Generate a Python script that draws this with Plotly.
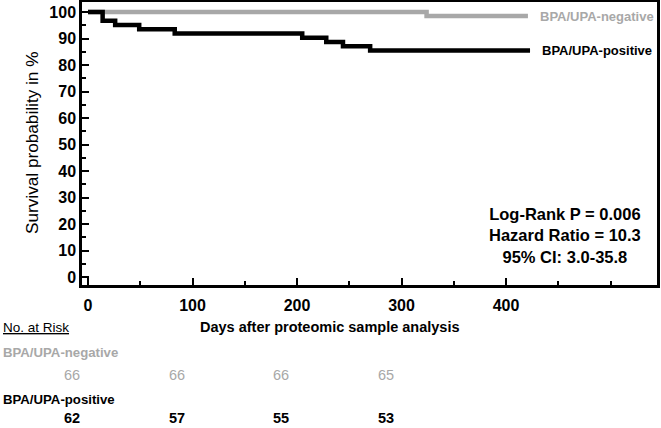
import plotly.graph_objects as go

# ---- data ----
pos_days = [0, 14, 26, 49, 83, 205, 228, 244, 270, 423]
pos_surv = [100, 96.77, 95.16, 93.55, 91.94, 90.32, 88.71, 87.10, 85.48, 85.48]
neg_days = [0, 324, 421]
neg_surv = [100, 98.48, 98.48]

risk_times = [0, 100, 200, 300]
risk_neg = [66, 66, 66, 65]
risk_pos = [62, 57, 55, 53]

x_ticks = [0, 100, 200, 300, 400]
y_ticks = [0, 10, 20, 30, 40, 50, 60, 70, 80, 90, 100]

GRAY = "#a8a8a8"
FONT = "Liberation Sans, Arial, sans-serif"

W, H = 661, 428
L, R, T, B = 82, 4, 2, 143
plot_w = W - L - R
plot_h = H - T - B

def ypaper(ypix):
    return (H - B - ypix) / plot_h

def xpaper(xpix):
    return (xpix - L) / plot_w

fig = go.Figure()
fig.add_trace(go.Scatter(x=neg_days, y=neg_surv, mode="lines", line=dict(color=GRAY, width=4.5, shape="hv"), showlegend=False))
fig.add_trace(go.Scatter(x=pos_days, y=pos_surv, mode="lines", line=dict(color="black", width=4.5, shape="hv"), showlegend=False))

ann = []
# curve labels
ann.append(dict(x=neg_days[-1], y=neg_surv[-1], xref="x", yref="y", text="<b>BPA/UPA-negative</b>", showarrow=False,
                xanchor="left", xshift=10, font=dict(color=GRAY, size=13, family=FONT)))
ann.append(dict(x=pos_days[-1], y=pos_surv[-1], xref="x", yref="y", text="<b>BPA/UPA-positive</b>", showarrow=False,
                xanchor="left", xshift=10, font=dict(color="black", size=13, family=FONT)))
# stats
ann.append(dict(x=xpaper(565), y=ypaper(235), xref="paper", yref="paper",
                text="<b>Log-Rank P = 0.006<br>Hazard Ratio = 10.3<br>95% CI: 3.0-35.8</b>", showarrow=False,
                align="center", xanchor="center", yanchor="middle", font=dict(size=16.5, family=FONT, color="black")))
# y title
ann.append(dict(x=xpaper(31.5), y=ypaper(143.5), xref="paper", yref="paper", text="Survival probability in %",
                textangle=-90, showarrow=False, xanchor="center", yanchor="middle",
                font=dict(size=17.2, family=FONT, color="black")))
# x title
ann.append(dict(x=xpaper(330), y=ypaper(327), xref="paper", yref="paper",
                text="<b>Days after proteomic sample analysis</b>", showarrow=False, xanchor="center", yanchor="middle",
                font=dict(size=14.5, family=FONT, color="black")))
# number at risk
ann.append(dict(x=xpaper(1), y=ypaper(327), xref="paper", yref="paper", text="<u>No. at Risk</u>",
                showarrow=False, xanchor="left", yanchor="middle", font=dict(size=13.5, family=FONT, color="black")))
ann.append(dict(x=xpaper(1), y=ypaper(352), xref="paper", yref="paper", text="<b>BPA/UPA-negative</b>",
                showarrow=False, xanchor="left", yanchor="middle", font=dict(size=13.2, family=FONT, color=GRAY)))
ann.append(dict(x=xpaper(1), y=ypaper(399), xref="paper", yref="paper", text="<b>BPA/UPA-positive</b>",
                showarrow=False, xanchor="left", yanchor="middle", font=dict(size=13.2, family=FONT, color="black")))
for t, n in zip(risk_times, risk_neg):
    ann.append(dict(x=t, y=ypaper(375), xref="x", yref="paper", text=str(n), showarrow=False, xshift=-16,
                    xanchor="center", yanchor="middle", font=dict(size=14.5, family=FONT, color=GRAY)))
for t, n in zip(risk_times, risk_pos):
    ann.append(dict(x=t, y=ypaper(418), xref="x", yref="paper", text="<b>%d</b>" % n, showarrow=False, xshift=-16,
                    xanchor="center", yanchor="middle", font=dict(size=14.5, family=FONT, color="black")))

axis_common = dict(showgrid=False, zeroline=False, showline=True, linecolor="black", linewidth=2.5, mirror=True,
                   ticks="inside", tickcolor="black", tickwidth=2, ticklen=7, automargin=False,
                   tickfont=dict(size=16, family=FONT, color="black", weight="bold"))

fig.update_layout(
    width=W, height=H, margin=dict(l=L, r=R, t=T, b=B, autoexpand=False),
    paper_bgcolor="white", plot_bgcolor="white",
    xaxis=dict(range=[-5.74, 544.5], tickvals=x_ticks, ticklabelstandoff=4,
               minor=dict(dtick=50, ticks="inside", ticklen=4, tickwidth=2, tickcolor="black"), **axis_common),
    yaxis=dict(range=[-3.0, 103.8], tickvals=y_ticks, ticklabelstandoff=0,
               minor=dict(dtick=5, ticks="inside", ticklen=4, tickwidth=2, tickcolor="black"), **axis_common),
    annotations=ann,
    font=dict(family=FONT),
)

fig.write_html("out.html", config={"displayModeBar": False},
               post_script="document.body.style.margin='0px';document.body.style.overflow='hidden';")
